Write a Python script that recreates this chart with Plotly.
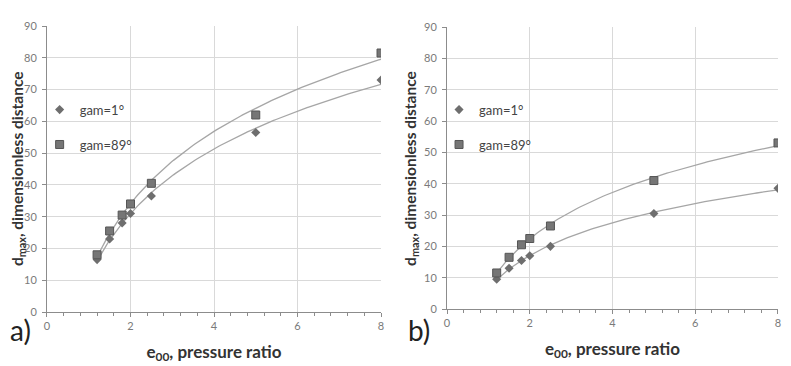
import numpy as np
import plotly.graph_objects as go

# ---- data ----
pressure_ratio = [1.2, 1.5, 1.8, 2.0, 2.5, 5.0, 8.0]
a_gam1 = [16.5, 23.0, 28.0, 31.0, 36.5, 56.5, 73.0]
a_gam89 = [18.0, 25.5, 30.5, 34.0, 40.5, 62.0, 81.5]
b_gam1 = [9.5, 13.0, 15.5, 17.0, 20.0, 30.5, 38.5]
b_gam89 = [11.5, 16.5, 20.5, 22.5, 26.5, 41.0, 53.0]
series_names = ["gam=1°", "gam=89°"]
x_ticks = [0, 2, 4, 6, 8]
y_ticks = [0, 10, 20, 30, 40, 50, 60, 70, 80, 90]
y_title = "<b>d<sub>max</sub>, dimensionless distance</b>"
x_title = "<b>e<sub>00</sub>, pressure ratio</b>"

FONT = "Lato, 'Open Sans', sans-serif"
GRID = "#d9d9d9"
AXIS = "#8c8c8c"
TICKC = "#7a7a7a"
LINEC = "#a6a6a6"
M1 = "#6e6e6e"
M2 = "#767676"


def log_fit(x, y):
    x = np.asarray(x, float)
    a, b = np.polyfit(np.log(x), np.asarray(y, float), 1)
    xs = np.linspace(x.min(), x.max(), 120)
    return xs, a * np.log(xs) + b


fig = go.Figure()

panels = [("x", "y", a_gam1, a_gam89, "legend"), ("x2", "y2", b_gam1, b_gam89, "legend2")]
for xa, ya, s1, s2, lg in panels:
    for s in (s1, s2):
        xs, ys = log_fit(pressure_ratio, s)
        fig.add_trace(go.Scatter(x=xs, y=ys, mode="lines", xaxis=xa, yaxis=ya,
                                 line=dict(color=LINEC, width=1.3), showlegend=False,
                                 hoverinfo="skip"))
    fig.add_trace(go.Scatter(x=pressure_ratio, y=s1, mode="markers", name=series_names[0],
                             xaxis=xa, yaxis=ya, legend=lg, legendgroup="g1",
                             marker=dict(symbol="diamond", size=7, color=M1)))
    fig.add_trace(go.Scatter(x=pressure_ratio, y=s2, mode="markers", name=series_names[1],
                             xaxis=xa, yaxis=ya, legend=lg, legendgroup="g2",
                             marker=dict(symbol="square", size=8, color=M2,
                                         line=dict(color="#555555", width=1))))

xcommon = dict(range=[0, 8], tickvals=x_ticks, showgrid=True, gridcolor=GRID, gridwidth=1,
               showline=True, linecolor=AXIS, linewidth=1, ticks="outside", ticklen=4,
               tickcolor=AXIS, tickfont=dict(size=11, color=TICKC, family=FONT),
               zeroline=False, fixedrange=True, automargin=False,
               minor=dict(dtick=0.4, ticks="outside", ticklen=3, tickcolor=AXIS, showgrid=False),
               title=dict(text=x_title,
                          font=dict(size=17, color="#333333", family=FONT), standoff=14))
ycommon = dict(range=[0, 90], tickvals=y_ticks, showgrid=True, gridcolor=GRID, gridwidth=1,
               showline=True, linecolor=AXIS, linewidth=1, ticks="outside", ticklen=4,
               tickcolor=AXIS, tickfont=dict(size=11, color=TICKC, family=FONT),
               zeroline=False, fixedrange=True, automargin=False, ticklabelstandoff=3)

legcommon = dict(bgcolor="rgba(0,0,0,0)", font=dict(size=13, color="#444444", family=FONT),
                 tracegroupgap=15, traceorder="grouped", itemsizing="trace",
                 xanchor="left", yanchor="top")

title_font = dict(size=15.5, color="#333333", family=FONT)
label_font = dict(size=28, color="#222222", family=FONT)

fig.update_layout(
    width=783, height=358,
    margin=dict(l=0, r=0, t=0, b=0, autoexpand=False),
    paper_bgcolor="white", plot_bgcolor="white",
    showlegend=True,
    xaxis=dict(domain=[0.0498, 0.4764], anchor="y", **xcommon),
    yaxis=dict(domain=[0.1508, 0.9497], anchor="x", **ycommon),
    xaxis2=dict(domain=[0.5607, 0.9834], anchor="y2", **xcommon),
    yaxis2=dict(domain=[0.1592, 0.9469], anchor="x2", **ycommon),
    legend=dict(x=0.0404, y=0.758, **legcommon),
    legend2=dict(x=0.5505, y=0.758, **legcommon),
    annotations=[
        dict(text=y_title, x=0.0128, y=0.55, xref="paper", yref="paper", showarrow=False,
             textangle=-90, xanchor="center", yanchor="middle", font=title_font),
        dict(text=y_title, x=0.5145, y=0.553, xref="paper", yref="paper", showarrow=False,
             textangle=-90, xanchor="center", yanchor="middle", font=title_font),
        dict(text="a)", x=0.0, y=0.0475, xref="paper", yref="paper", showarrow=False,
             xanchor="left", yanchor="bottom", font=label_font),
        dict(text="b)", x=0.508, y=0.0475, xref="paper", yref="paper", showarrow=False,
             xanchor="left", yanchor="bottom", font=label_font),
    ],
)

fig.write_html("out.html")
